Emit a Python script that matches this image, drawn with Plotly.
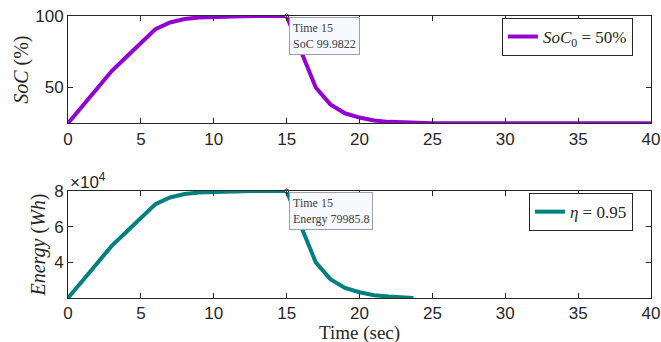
import plotly.graph_objects as go

# State of charge over time (percent)
time_soc = list(range(0, 41))
soc = [25.0, 37.5, 50.0, 61.5, 71.3, 81.1, 90.8, 95.5, 97.9, 99.0,
       99.5, 99.75, 99.88, 99.94, 99.97, 99.9822, 75.0, 50.0, 38.2, 32.0,
       29.0, 27.0, 26.0, 25.5, 25.2, 25.0, 25.0, 25.0, 25.0, 25.0,
       25.0, 25.0, 25.0, 25.0, 25.0, 25.0, 25.0, 25.0, 25.0, 25.0, 25.0]

# Stored energy (Wh)
time_energy = list(range(0, 24)) + [23.7]
energy = [20000, 30000, 40000, 49200, 57040, 64880, 72640, 76400, 78320, 79200,
          79600, 79800, 79904, 79952, 79976, 79985.8, 60000, 40000, 30560, 25600,
          23200, 21600, 20800, 20400, 20000]

x_ticks = [0, 5, 10, 15, 20, 25, 30, 35, 40]
soc_ticks = [50, 100]
energy_ticks = [40000, 60000, 80000]
energy_tick_text = ["4", "6", "8"]

purple = "#9400D3"
teal = "#008080"
axis_color = "#262626"
serif = "Liberation Serif"
sans = "Liberation Sans"

fig = go.Figure()
fig.add_trace(go.Scatter(x=time_soc, y=soc, mode="lines",
                         line=dict(color=purple, width=4),
                         name="<i>SoC</i><sub>0</sub> = 50%",
                         xaxis="x", yaxis="y", legend="legend"))
fig.add_trace(go.Scatter(x=time_energy, y=energy, mode="lines",
                         line=dict(color=teal, width=4),
                         name="<i>η</i> = 0.95",
                         xaxis="x2", yaxis="y2", legend="legend2"))

# Data tip markers
fig.add_trace(go.Scatter(x=[time_soc[15]], y=[soc[15]], mode="markers",
                         marker=dict(size=4, color="#ffffff", line=dict(color="#333333", width=1)),
                         showlegend=False, xaxis="x", yaxis="y", cliponaxis=False))
fig.add_trace(go.Scatter(x=[time_energy[15]], y=[energy[15]], mode="markers",
                         marker=dict(size=4, color="#ffffff", line=dict(color="#333333", width=1)),
                         showlegend=False, xaxis="x2", yaxis="y2", cliponaxis=False))

axis_common = dict(showline=True, linecolor=axis_color, linewidth=1, mirror="ticks",
                   ticks="inside", ticklen=5, tickcolor=axis_color, showgrid=False,
                   zeroline=False, automargin=False,
                   tickfont=dict(family=sans, size=17, color=axis_color))

title_font = dict(family=serif, size=20, color=axis_color)

fig.update_layout(
    width=661, height=342,
    margin=dict(l=68, r=10, t=16, b=44),
    paper_bgcolor="white", plot_bgcolor="white",
    xaxis=dict(domain=[0, 1], range=[0, 40], tickvals=x_ticks, anchor="y", **axis_common),
    yaxis=dict(domain=[0.6195, 1.0], range=[25, 100], tickvals=soc_ticks, anchor="x",
               title=dict(text="<i>SoC</i> (%)", font=title_font, standoff=1),
               **axis_common),
    xaxis2=dict(domain=[0, 1], range=[0, 40], tickvals=x_ticks, anchor="y2", **axis_common),
    yaxis2=dict(domain=[0.0, 0.3794], range=[20000, 80000], tickvals=energy_ticks,
                ticktext=energy_tick_text, anchor="x2",
                title=dict(text="<i>Energy</i> (<i>Wh</i>)", font=title_font, standoff=3),
                **axis_common),
    legend=dict(x=0.969, y=0.993, xanchor="right", yanchor="top",
                bgcolor="white", bordercolor=axis_color, borderwidth=1,
                font=dict(family=serif, size=17, color=axis_color),
                itemwidth=30, tracegroupgap=0),
    legend2=dict(x=0.969, y=0.372, xanchor="right", yanchor="top",
                 bgcolor="white", bordercolor=axis_color, borderwidth=1,
                 font=dict(family=serif, size=17, color=axis_color),
                 itemwidth=30, tracegroupgap=0),
    showlegend=True,
)

# Shared time axis label under the lower panel
fig.add_annotation(x=0.5, y=-0.124, xref="paper", yref="paper", xanchor="center", yanchor="middle",
                   showarrow=False, text="Time (sec)", borderpad=0,
                   font=dict(family=serif, size=19, color=axis_color))

tip_style = dict(showarrow=False, xanchor="left", yanchor="top", align="left",
                 font=dict(family=serif, size=12, color="#404040"),
                 bgcolor="#f8f8ff", bordercolor="#a0a0a0", borderwidth=1, borderpad=3)
fig.add_annotation(x=time_soc[15], y=soc[15], xref="x", yref="y", xshift=2, yshift=-1,
                   text=f"Time {time_soc[15]}<br>SoC {soc[15]}", **tip_style)
fig.add_annotation(x=time_energy[15], y=energy[15], xref="x2", yref="y2", xshift=2, yshift=-1,
                   text=f"Time {time_energy[15]}<br>Energy {energy[15]}", **tip_style)

# Exponent label for the energy axis
fig.add_annotation(x=0, y=1.0, xref="x2 domain", yref="y2 domain", xanchor="left", yanchor="bottom",
                   showarrow=False, text="×10<sup>4</sup>",
                   font=dict(family=sans, size=17, color=axis_color), yshift=-3)

fig.write_html("out.html")
